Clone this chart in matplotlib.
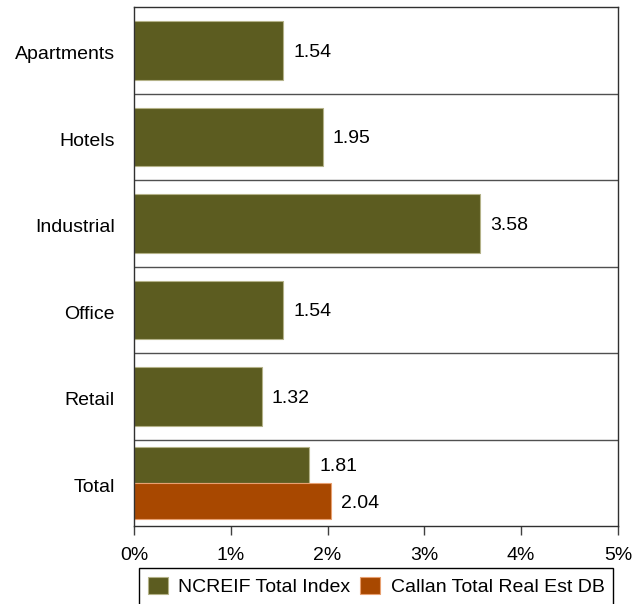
import numpy as np
import matplotlib
matplotlib.use("Agg")
import matplotlib.pyplot as plt
from matplotlib.transforms import ScaledTranslation

plt.rcParams["font.family"] = ["Liberation Sans", "DejaVu Sans"]

categories = ["Apartments", "Hotels", "Industrial", "Office", "Retail", "Total"]
ncreif = [1.54, 1.95, 3.58, 1.54, 1.32, 1.81]
callan_total = 2.04
x_ticks = [0, 1, 2, 3, 4, 5]
x_labels = ["0%", "1%", "2%", "3%", "4%", "5%"]

green = "#5c5c20"
green_edge = "#b4b288"
orange = "#a84800"
orange_edge = "#e8a070"

fig = plt.figure(figsize=(6.44, 6.04), dpi=100)
ax = fig.add_axes([0.208, 0.129, 0.7515, 0.859])

y = np.arange(len(categories), dtype=float)
single_h = 0.675
pair_h = 0.42

# sector rows: single bar; total row: pair of bars
y_n = y.copy()
h_n = np.full(len(categories), single_h)
y_n[-1] = y[-1] - pair_h / 2
h_n[-1] = pair_h

b1 = ax.barh(y_n, ncreif, height=h_n, color=green, edgecolor=green_edge,
             linewidth=0.8, label="NCREIF Total Index")
b2 = ax.barh([y[-1] + pair_h / 2], [callan_total], height=pair_h, color=orange,
             edgecolor=orange_edge, linewidth=0.8, label="Callan Total Real Est DB")

down = ScaledTranslation(0, -0.02, fig.dpi_scale_trans)
for bars in (b1, b2):
    labels = ax.bar_label(bars, fmt="%.2f", padding=7.2, fontsize=14)
    for t in labels:
        t.set_va("center_baseline")
        t.set_transform(t.get_transform() + down)

for sep in y[:-1] + 0.5:
    ax.axhline(sep, color="#505050", linewidth=1.0, zorder=0)

ax.set_ylim(len(categories) - 0.5, -0.5)
ax.set_xlim(0, 5)
ax.set_yticks(y)
ax.set_yticklabels(categories, fontsize=14, va="center_baseline")
ax.tick_params(axis="y", length=0, pad=13.7)
for t in ax.get_yticklabels():
    t.set_transform(t.get_transform() + ScaledTranslation(0, -0.025, fig.dpi_scale_trans))
ax.set_xticks(x_ticks)
ax.set_xticklabels(x_labels, fontsize=14)
ax.tick_params(axis="x", length=6.5, width=1.0, color="#404040", pad=8.5)

for s in ax.spines.values():
    s.set_color("#303030")
    s.set_linewidth(1.0)

fig.legend(handles=[b1, b2], loc="upper center", bbox_to_anchor=(0.584, 0.0596),
           ncol=2, fontsize=14, frameon=True, fancybox=False, edgecolor="black",
           framealpha=1, handlelength=1.05, handleheight=1.0, handletextpad=0.52,
           columnspacing=0.5, borderpad=0.45, borderaxespad=0)

fig.savefig("out.png", dpi=100)
